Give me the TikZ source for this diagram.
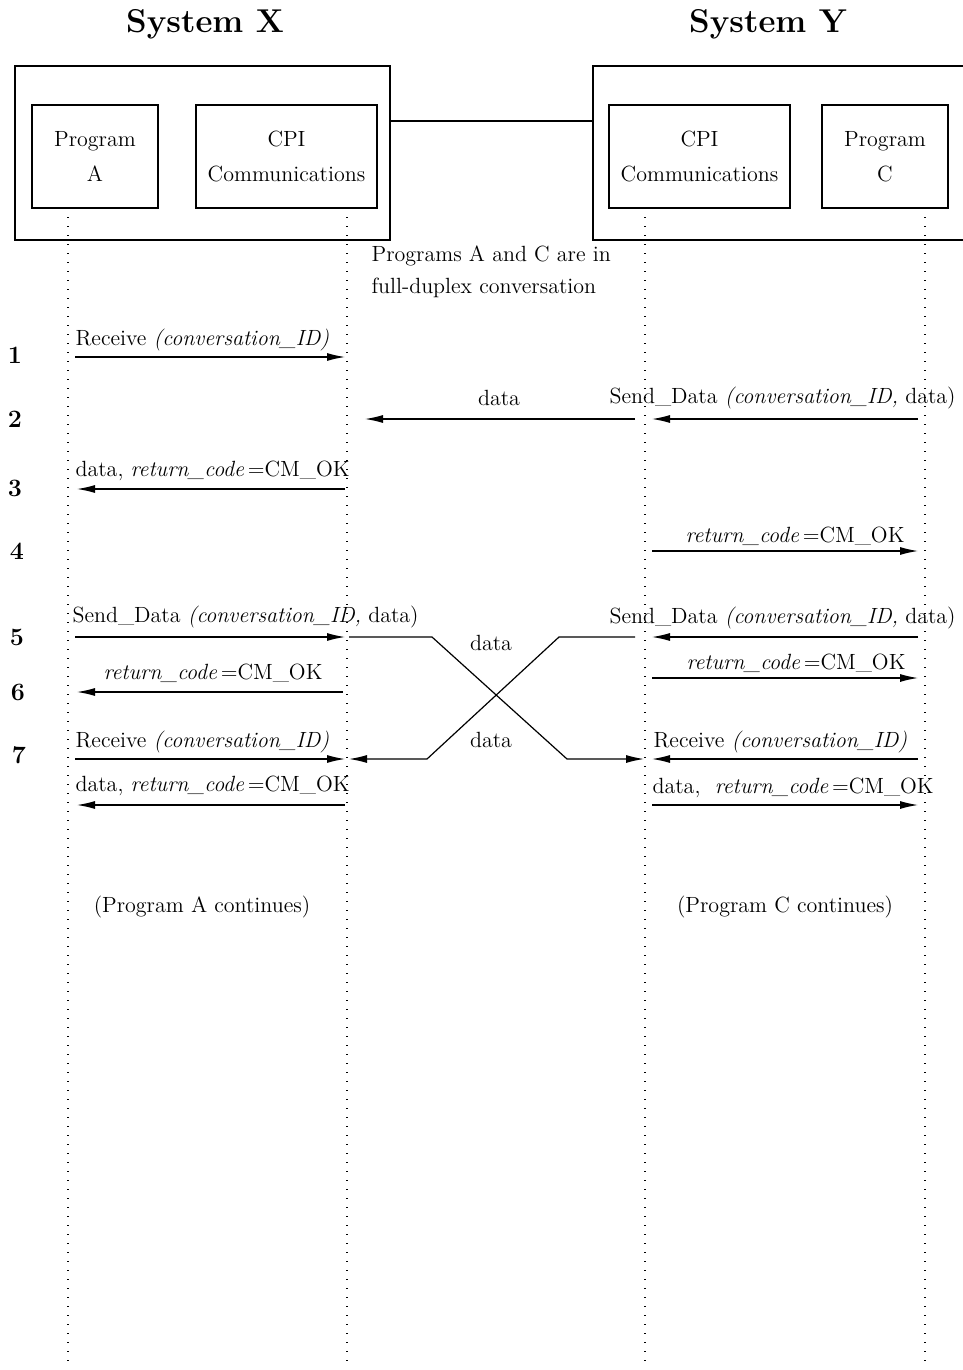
\documentclass[tikz,border=0pt]{standalone}
\usetikzlibrary{arrows.meta}

\tikzset{
  box/.style={draw, minimum height=51.5pt, inner sep=0pt, align=center,
    font=\fontsize{11}{17.5}\selectfont},
  sysbox/.style={draw, minimum height=87pt, inner sep=0pt},
  life/.style={dash pattern=on 0.7pt off 3.8pt},
  msg/.style={-{Latex[length=9pt,width=4pt]}},
  lbl/.style={inner sep=0pt, anchor=west},
  stepno/.style={inner sep=0pt, font=\fontsize{12.5}{14}\selectfont\bfseries},
}
\newcommand{\cid}{\textit{(conversation\_ID)}}
\newcommand{\rcok}{\textit{return\_code}\,=CM\_OK}

\begin{document}
\begin{tikzpicture}[x=0.5pt, y=-0.5pt, line width=0.6pt, font=\fontsize{11}{13}\selectfont]
                \useasboundingbox (0,0) rectangle (963,1370);

                % systems
                \node[font=\fontsize{16.5}{19}\selectfont\bfseries] (sysX) at (205,24) {System X};
                \node[font=\fontsize{16.5}{19}\selectfont\bfseries] (sysY) at (768,24) {System Y};
                \node[sysbox, minimum width=187.5pt] (outX) at (202.5,153) {};
                \node[sysbox, minimum width=188.5pt] (outY) at (781.5,153) {};
                \draw (outX.east |- 0,121) -- (outY.west |- 0,121);

                \node[box, minimum width=63pt] (progA) at (95,156.5) {Program\\A};
                \node[box, minimum width=90.5pt] (cpiX) at (286.5,156.5) {CPI\\Communications};
                \node[box, minimum width=90.5pt] (cpiY) at (699.5,156.5) {CPI\\Communications};
                \node[box, minimum width=63pt] (progC) at (885,156.5) {Program\\C};

                % lifelines
                \coordinate (lA) at (68,208); \coordinate (lAend) at (68,1366);
                \coordinate (lX) at (347,208); \coordinate (lXend) at (347,1366);
                \coordinate (lY) at (645,208); \coordinate (lYend) at (645,1366);
                \coordinate (lC) at (925,208); \coordinate (lCend) at (925,1366);
                \draw[life] (lA) -- (lAend); \draw[life] (lX) -- (lXend);
                \draw[life] (lY) -- (lYend); \draw[life] (lC) -- (lCend);

                \node[lbl] (note1) at (371,256) {Programs A and C are in};
                \node[lbl] (note2) at (371,288) {full-duplex conversation};

                % rows
                \coordinate (s1) at (0,357); \coordinate (s2) at (0,419);
                \coordinate (s3) at (0,489); \coordinate (s4) at (0,551);
                \coordinate (s5) at (0,637); \coordinate (s6) at (0,692);
                \coordinate (s6r) at (0,678); \coordinate (s7) at (0,759);
                \coordinate (s8) at (0,805);

                \node[stepno] (n1) at (15,355) {1};
                \node[stepno] (n2) at (15,419) {2};
                \node[stepno] (n3) at (15,488) {3};
                \node[stepno] (n4) at (17,551) {4};
                \node[stepno] (n5) at (17,637) {5};
                \node[stepno] (n6) at (18,692) {6};
                \node[stepno] (n7) at (19,755) {7};

                % 1
                \node[lbl] (t1) at (75,340) {Receive \cid};
                \draw[msg] ([xshift=3.5pt]lA |- s1) to ([xshift=-1pt]lX |- s1);
                % 2
                \node (t2a) at (499,398) {data};
                \node[lbl] (t2b) at (609,398) {Send\_Data \textit{(conversation\_ID,} data)};
                \draw[msg] ([xshift=-3.5pt]lC |- s2) to ([xshift=3.5pt]lY |- s2);
                \draw[msg] ([xshift=-5pt]lY |- s2) to ([xshift=9pt]lX |- s2);
                % 3
                \node[lbl] (t3) at (75,471) {data, \rcok};
                \draw[msg] ([xshift=-1pt]lX |- s3) to ([xshift=4.5pt]lA |- s3);
                % 4
                \node[lbl] (t4) at (685,536) {\rcok};
                \draw[msg] ([xshift=3.5pt]lY |- s4) to ([xshift=-3.5pt]lC |- s4);
                % 5
                \node[lbl] (t5a) at (72,617) {Send\_Data \textit{(conversation\_ID,} data)};
                \node[lbl] (t5b) at (609,618) {Send\_Data \textit{(conversation\_ID,} data)};
                \draw[msg] ([xshift=3.5pt]lA |- s5) to ([xshift=-1pt]lX |- s5);
                \draw[msg] ([xshift=-3.5pt]lC |- s5) to ([xshift=3.5pt]lY |- s5);

                % crossing data
                \coordinate (k1) at (432,637); \coordinate (k2) at (567,759);
                \coordinate (k3) at (559,637); \coordinate (k4) at (427,759);
                \node (dx1) at (491,643) {data};
                \node (dx2) at (491,740) {data};
                \draw[msg] ([xshift=1pt]lX |- s5) -- (k1) -- (k2) -- ([xshift=-0.5pt]lY |- s7);
                \draw[msg] ([xshift=-5pt]lY |- s5) -- (k3) -- (k4) -- ([xshift=1pt]lX |- s7);

                % 6
                \node[lbl] (t6a) at (103,673) {\rcok};
                \node[lbl] (t6b) at (686,663) {\rcok};
                \draw[msg] ([xshift=-2pt]lX |- s6) to ([xshift=4.5pt]lA |- s6);
                \draw[msg] ([xshift=3.5pt]lY |- s6r) to ([xshift=-3.5pt]lC |- s6r);
                % 7
                \node[lbl] (t7a) at (75,742) {Receive \cid};
                \node[lbl] (t7b) at (653,742) {Receive \cid};
                \draw[msg] ([xshift=3.5pt]lA |- s7) to ([xshift=-1pt]lX |- s7);
                \draw[msg] ([xshift=-3.5pt]lC |- s7) to ([xshift=3.5pt]lY |- s7);
                \node[lbl] (t8a) at (75,786) {data, \rcok};
                \node[lbl] (t8b) at (652,788) {data,\ \ \rcok};
                \draw[msg] ([xshift=-1pt]lX |- s8) to ([xshift=4.5pt]lA |- s8);
                \draw[msg] ([xshift=3.5pt]lY |- s8) to ([xshift=-3.5pt]lC |- s8);

                \node (contA) at (202,907) {(Program A continues)};
                \node (contC) at (785,907) {(Program C continues)};
            \end{tikzpicture}
\end{document}
